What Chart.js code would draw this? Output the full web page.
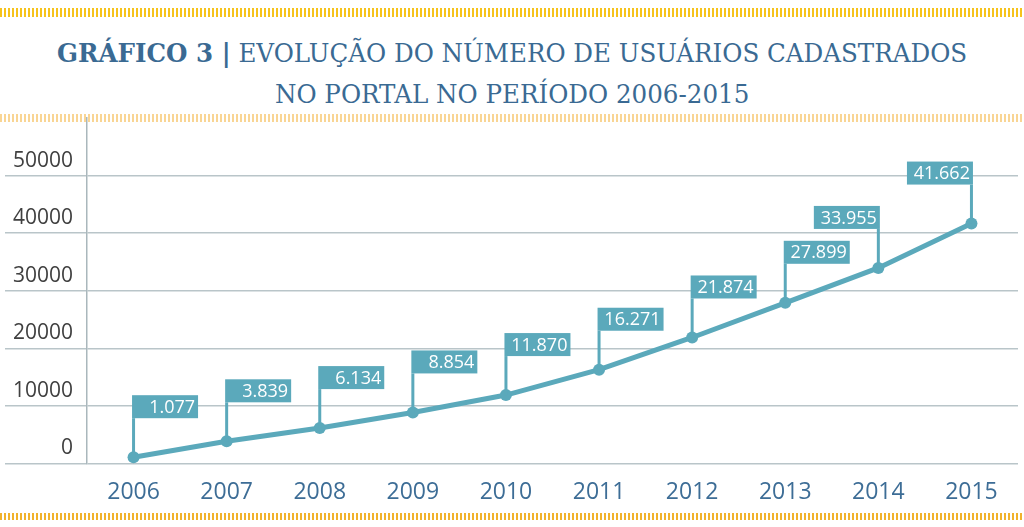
<!DOCTYPE html>
<html>
<head>
<meta charset="utf-8">
<script src="https://cdn.jsdelivr.net/npm/chart.js@4/dist/chart.umd.min.js"></script>
<style>
  html, body { margin: 0; padding: 0; background: #ffffff; }
  body { width: 1024px; height: 527px; position: relative; overflow: hidden; }
  .band { position: absolute; left: 0; width: 1024px;
    background: repeating-linear-gradient(90deg, var(--c) 0px, var(--c) 2px, transparent 2px, transparent 4px); }
  #band1 { top: 8px; height: 9px; --c: #f6c31c; }
  #band2 { top: 114px; height: 8px; --c: #f9d594; }
  #band3 { top: 513px; height: 7px; --c: #f1b22c; }
  #title { position: absolute; left: 0; width: 1024px; top: 33px; text-align: center;
    font-family: "DejaVu Serif", serif; color: #3a6a93; font-size: 26px; line-height: 41px;
    transform: scaleX(0.945); transform-origin: 514px 0; }
  #title b { font-weight: bold; }
  #wrap { position: absolute; left: 0; top: 0; width: 1024px; height: 527px; }
</style>
</head>
<body>
<div class="band" id="band1"></div>
<div class="band" id="band2"></div>
<div class="band" id="band3"></div>
<div id="title"><b>GRÁFICO 3 |</b> EVOLUÇÃO DO NÚMERO DE USUÁRIOS CADASTRADOS<br>NO PORTAL NO PERÍODO 2006-2015</div>
<div id="wrap"><canvas id="c" width="1024" height="527"></canvas></div>
<script>
const years = ["2006", "2007", "2008", "2009", "2010", "2011", "2012", "2013", "2014", "2015"];
const users = [1077, 3839, 6134, 8854, 11870, 16271, 21874, 27899, 33955, 41662];
const yTicks = [0, 10000, 20000, 30000, 40000, 50000];

function fmt(v) {
  return String(v).replace(/\B(?=(\d{3})+(?!\d))/g, ".");
}

const teal = "#5ba9bb";

const calloutPlugin = {
  id: "callouts",
  afterDatasetsDraw(chart) {
    const ctx = chart.ctx;
    const meta = chart.getDatasetMeta(0);
    ctx.save();
    ctx.font = "18px 'Open Sans'";
    meta.data.forEach((pt, i) => {
      const x = pt.x, y = pt.y;
      const w = 66, h = 23;
      const flip = i >= 8;
      const bx = flip ? x + 1.5 - w : x - 1.5;
      const by = y - 62;
      ctx.strokeStyle = teal;
      ctx.lineWidth = 3;
      ctx.beginPath();
      ctx.moveTo(x, by + h);
      ctx.lineTo(x, y);
      ctx.stroke();
      ctx.fillStyle = teal;
      ctx.fillRect(bx, by, w, h);
      ctx.fillStyle = "#ffffff";
      ctx.textAlign = "right";
      ctx.textBaseline = "middle";
      ctx.fillText(fmt(users[i]), bx + w - 3, by + h / 2 + 1);
    });
    ctx.restore();
  }
};

new Chart(document.getElementById("c"), {
  type: "line",
  data: {
    labels: years,
    datasets: [{
      data: users,
      borderColor: teal,
      backgroundColor: teal,
      borderWidth: 5,
      pointRadius: 6,
      pointHoverRadius: 6,
      pointBackgroundColor: teal,
      pointBorderWidth: 0,
      tension: 0,
      clip: false
    }]
  },
  options: {
    responsive: false,
    animation: false,
    events: [],
    layout: { padding: { top: 118, bottom: 6, left: 0, right: 1 } },
    plugins: { legend: { display: false }, tooltip: { enabled: false }, title: { display: false } },
    scales: {
      x: {
        offset: true,
        grid: { display: false, drawTicks: false },
        border: { display: false },
        ticks: { color: "#3d6d96", font: { family: "'Open Sans'", size: 23 }, padding: 15 }
      },
      y: {
        min: 0, max: 60000,
        afterFit(scale) { scale.width = 87; },
        afterBuildTicks(scale) { scale.ticks = yTicks.concat([60000]).map(v => ({ value: v })); },
        grid: {
          color: (c) => (c.tick && c.tick.value === 60000) ? "rgba(0,0,0,0)" : "#b9c5c9",
          lineWidth: 1.5,
          tickLength: 82,
          drawTicks: true
        },
        border: { display: true, color: "#aab7bc", width: 1.5 },
        ticks: {
          color: "#404040",
          font: { family: "'Open Sans'", size: 21 },
          padding: -68,
          labelOffset: -15,
          callback: (v) => yTicks.includes(v) ? String(v) : ""
        }
      }
    }
  },
  plugins: [calloutPlugin]
});
</script>
</body>
</html>
